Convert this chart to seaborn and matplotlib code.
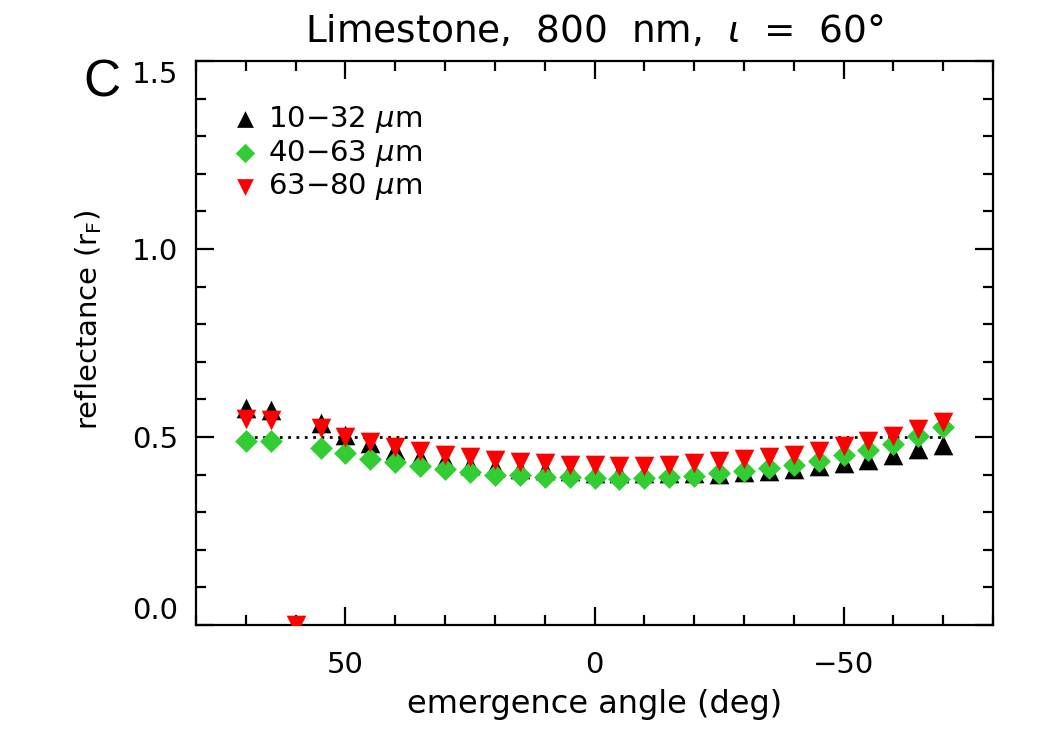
import matplotlib
matplotlib.use("Agg")
import matplotlib.pyplot as plt
import numpy as np
import pandas as pd
import seaborn as sns
from matplotlib.ticker import MultipleLocator, FuncFormatter, FormatStrFormatter

# emergence angles (deg), incidence 60 deg
angles = [70, 65, 60, 55, 50, 45, 40, 35, 30, 25, 20, 15, 10, 5, 0,
          -5, -10, -15, -20, -25, -30, -35, -40, -45, -50, -55, -60, -65, -70]

nan = np.nan
r_10_32 = [0.577, 0.572, nan, 0.537, 0.505, 0.484, 0.465, 0.447, 0.439, 0.426, 0.420, 0.415, 0.412, 0.410, 0.405,
           0.405, 0.405, 0.405, 0.405, 0.402, 0.406, 0.410, 0.415, 0.423, 0.431, 0.439, 0.452, 0.468, 0.479]
r_40_63 = [0.490, 0.490, nan, 0.470, 0.457, 0.441, 0.433, 0.423, 0.415, 0.407, 0.400, 0.399, 0.394, 0.393, 0.390,
           0.388, 0.391, 0.394, 0.396, 0.404, 0.410, 0.417, 0.426, 0.436, 0.452, 0.465, 0.481, 0.503, 0.526]
r_63_80 = [0.547, 0.545, 0.0, 0.524, 0.500, 0.487, 0.473, 0.463, 0.452, 0.447, 0.439, 0.434, 0.431, 0.426, 0.426,
           0.423, 0.423, 0.426, 0.431, 0.436, 0.442, 0.447, 0.452, 0.462, 0.476, 0.489, 0.503, 0.521, 0.540]

labels = ["10\u221232 $\\mu$m", "40\u221263 $\\mu$m", "63\u221280 $\\mu$m"]
series = [r_10_32, r_40_63, r_63_80]
colors = ["black", "#32cd32", "#ff0000"]
marks = ["^", "D", "v"]
sizes = [200, 135, 200]

x_major = [50, 0, -50]
y_major = [0.0, 0.5, 1.0, 1.5]

sns.set_style("ticks")
plt.rcParams["font.family"] = ["DejaVu Sans"]
plt.rcParams["mathtext.fontset"] = "dejavusans"
for k in ["text.color", "axes.labelcolor", "xtick.color", "ytick.color", "axes.edgecolor"]:
    plt.rcParams[k] = "black"

fig = plt.figure(figsize=(10.5, 7.5), dpi=100)
ax = fig.add_axes([0.1867, 0.1667, 0.7590, 0.752])

# reference line at 0.5
ax.plot([70, -70], [0.5, 0.5], color="black", lw=2, ls=(0, (1, 2.0)), zorder=1)

for lab, vals, c, m, s in zip(labels, series, colors, marks, sizes):
    d = pd.DataFrame({"angle": angles, "r": vals}).dropna()
    sns.scatterplot(data=d, x="angle", y="r", color=c, marker=m, s=s, linewidth=0,
                    ax=ax, zorder=3, label=lab, clip_on=True)

ax.set_xlim(80, -80)
ax.set_ylim(0, 1.5)
ax.set_xticks(x_major)
ax.set_yticks(y_major)
ax.xaxis.set_minor_locator(MultipleLocator(10))
ax.yaxis.set_minor_locator(MultipleLocator(0.1))
ax.xaxis.set_major_formatter(FuncFormatter(lambda v, p: f"{v:g}".replace("-", "\u2212")))
ax.yaxis.set_major_formatter(FormatStrFormatter("%.1f"))

ax.tick_params(which="both", direction="in", top=True, right=True, width=1.6, labelsize=21)
ax.tick_params(axis="x", pad=19)
ax.tick_params(axis="y", pad=13)
ax.tick_params(which="major", length=13)
ax.tick_params(which="minor", length=7)
for sp in ax.spines.values():
    sp.set_linewidth(1.6)
    sp.set_visible(True)

ax.set_xlabel("emergence angle (deg)", fontsize=23, labelpad=7)
ax.set_ylabel("reflectance (r$_\\mathregular{F}$)", fontsize=21, labelpad=12)
ax.yaxis.set_label_coords(-0.115, 0.54)
ax.set_title("Limestone,  800  nm,  $\\iota$  =  60\u00b0", fontsize=27, pad=14)

fig.text(0.079, 0.889, "C", fontsize=37, family="Liberation Sans", ha="left", va="center")

ax.legend(loc="upper left", bbox_to_anchor=(0.028, 0.945), frameon=False, fontsize=21,
          handlelength=1.0, handletextpad=0.3, labelspacing=0.1, markerscale=0.85,
          borderaxespad=0)

# end labels sit inside the axis range
fig.canvas.draw()
for t in ax.yaxis.get_major_ticks():
    if t.label1.get_text() == "0.0":
        t.label1.set_va("bottom")
    elif t.label1.get_text() == "1.5":
        t.label1.set_va("top")

fig.savefig("out.png", dpi=100)
